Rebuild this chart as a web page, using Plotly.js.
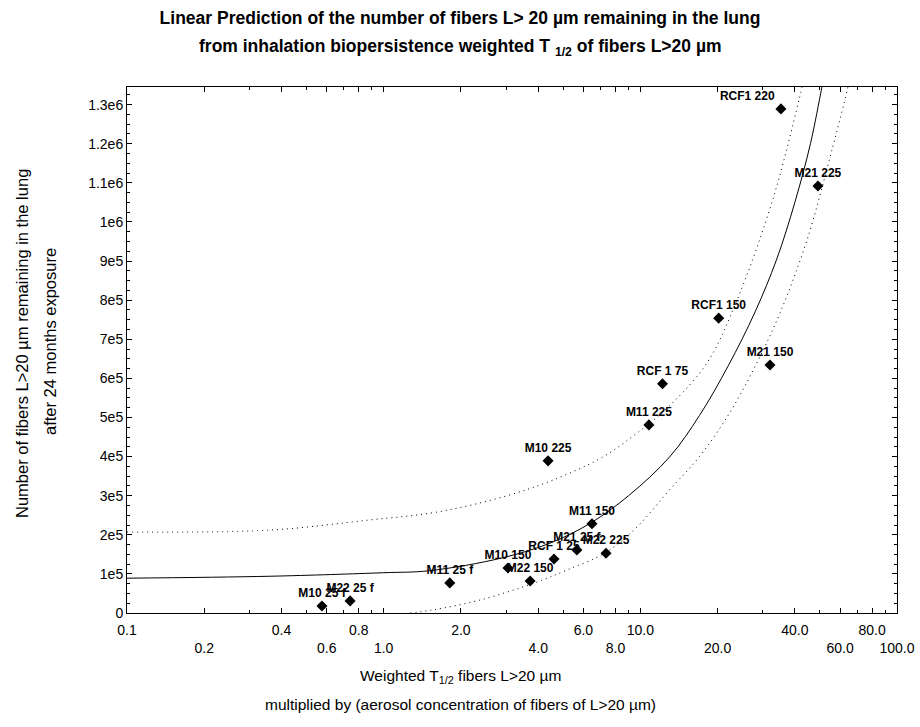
<!DOCTYPE html>
<html>
<head>
<meta charset="utf-8">
<script src="https://cdn.plot.ly/plotly-3.0.1.min.js"></script>
<style>html,body{margin:0;padding:0;background:#fff;}#chart{width:920px;height:727px;}</style>
</head>
<body>
<div id="chart"></div>
<script>
// Data points (weighted T1/2 x aerosol concentration, fibers remaining)
const pointLabels = ["M10 25 f","M22 25 f","M11 25 f","M22 150","M10 150","RCF 1 25","M21 25 f","M22 225","M11 150","M10 225","M11 225","RCF 1 75","RCF1 150","M21 150","M21 225","RCF1 220"];
const pointX = [0.575, 0.74, 1.81, 3.72, 3.05, 4.61, 5.66, 7.35, 6.48, 4.37, 10.8, 12.2, 20.2, 32.0, 49.2, 35.3];
const pointY = [18000, 31000, 77000, 82000, 115000, 138000, 161000, 153000, 228000, 389000, 481000, 586000, 754000, 634000, 1092000, 1289000];
const labelPos = ["top center","top center","top center","top center","top center","top center","top center","top center","top center","top center","top center","top center","top center","top center","top center","top left"];

// Prediction line and confidence bands
const fitX = [0.1, 0.36, 1.0, 1.5, 2.9, 4.5, 6.4, 9.0, 13, 17, 22, 28, 34, 40, 46, 51, 53];
const fitY = [89000, 94000, 103000, 108000, 141000, 180000, 230000, 300000, 399000, 505000, 632000, 770000, 905000, 1050000, 1200000, 1345000, 1400000];
const upX = [0.1, 0.36, 0.885, 1.61, 2.92, 4.57, 7.14, 9.7, 13.0, 18.2, 23.8, 32.9, 41.5, 44.5];
const upY = [207000, 212000, 238000, 258000, 297000, 340000, 399000, 460000, 530000, 640000, 800000, 1060000, 1312000, 1400000];
const lowX = [1.27, 1.56, 2.37, 3.95, 5.18, 7.35, 9.7, 13.0, 17.0, 22.3, 28.4, 35.0, 44.6, 56.2, 64.4, 67];
const lowY = [0, 8000, 33000, 79000, 110000, 155000, 220000, 315000, 400000, 512000, 639000, 767000, 954000, 1192000, 1345000, 1400000];

// Axis ticks
const xTickVals = [0.1, 0.2, 0.4, 0.6, 0.8, 1, 2, 4, 6, 8, 10, 20, 40, 60, 80, 100];
const xTickText = ["0.1","<br>0.2","0.4","<br>0.6","0.8","<br>1.0","2.0","<br>4.0","6.0","<br>8.0","10.0","<br>20.0","40.0","<br>60.0","80.0","<br>100.0"];
const xMinorVals = [0.3, 0.5, 0.7, 0.9, 3, 5, 7, 9, 30, 50, 70, 90];
const yTickVals = [0, 100000, 200000, 300000, 400000, 500000, 600000, 700000, 800000, 900000, 1000000, 1100000, 1200000, 1300000];
const yTickText = ["0","1e5","2e5","3e5","4e5","5e5","6e5","7e5","8e5","9e5","1e6","1.1e6","1.2e6","1.3e6"];

const FONT = "Liberation Sans, Arial, sans-serif";
const L = 127, R = 897, T = 87, B = 613;
const px2px = v => (v - L) / (R - L);
const py2py = v => (B - v) / (B - T);
const DOT = "1px,4px";

const traces = [
  {x: fitX, y: fitY, mode: "lines", line: {color: "#000", width: 1, shape: "spline"}, hoverinfo: "skip"},
  {x: upX, y: upY, mode: "lines", line: {color: "#000", width: 1, dash: DOT, shape: "spline"}, hoverinfo: "skip"},
  {x: lowX, y: lowY, mode: "lines", line: {color: "#000", width: 1, dash: DOT, shape: "spline"}, hoverinfo: "skip"},
  {x: pointX, y: pointY, text: pointLabels, mode: "markers+text", textposition: labelPos,
   marker: {symbol: "diamond", size: 8.5, color: "#000"},
   textfont: {family: FONT, size: 12, color: "#000", weight: "bold"}, cliponaxis: false}
];

const layout = {
  width: 920, height: 727,
  margin: {l: L, r: 920 - R, t: T, b: 727 - B},
  paper_bgcolor: "#fff", plot_bgcolor: "#fff",
  showlegend: false,
  font: {family: FONT, color: "#000"},
  title: {text: "<b>Linear Prediction of the number of fibers L> 20 µm remaining in the lung</b>",
          font: {family: FONT, size: 17.5, color: "#000"}, x: 0.5, xref: "container", xanchor: "center",
          y: 1 - 18 / 727, yref: "container", yanchor: "middle"},
  xaxis: {type: "log", range: [-1, 2], tickmode: "array", tickvals: xTickVals, ticktext: xTickText, tickangle: 0,
          ticklabelstandoff: 4,
          ticks: "inside", ticklen: 5, tickcolor: "#000", showgrid: false, zeroline: false,
          showline: true, linecolor: "#000", linewidth: 1, mirror: "allticks",
          tickfont: {family: FONT, size: 14, color: "#000"},
          minor: {tickmode: "array", tickvals: xMinorVals, ticks: "inside", ticklen: 3, tickcolor: "#000", showgrid: false}},
  yaxis: {range: [0, 1345000], tickmode: "array", tickvals: yTickVals, ticktext: yTickText,
          ticks: "inside", ticklen: 5, tickcolor: "#000", showgrid: false, zeroline: false,
          showline: true, linecolor: "#000", linewidth: 1, mirror: "allticks",
          tickfont: {family: FONT, size: 14, color: "#000"},
          minor: {dtick: 25000, ticks: "inside", ticklen: 3, tickcolor: "#000", showgrid: false}},
  annotations: [
    {text: "<b>from inhalation biopersistence weighted T <sub>1/2</sub> of fibers L>20 µm</b>", xref: "paper", yref: "paper",
     x: px2px(460), y: py2py(47), showarrow: false, xanchor: "center", yanchor: "middle",
     font: {family: FONT, size: 17.5, color: "#000"}},
    {text: "Weighted T<sub>1/2</sub> fibers L>20 µm", xref: "paper", yref: "paper",
     x: px2px(460), y: py2py(676), showarrow: false, xanchor: "center", yanchor: "middle",
     font: {family: FONT, size: 15.5, color: "#000"}},
    {text: "multiplied by (aerosol concentration of fibers of L>20 µm)", xref: "paper", yref: "paper",
     x: px2px(460), y: py2py(704), showarrow: false, xanchor: "center", yanchor: "middle",
     font: {family: FONT, size: 15.5, color: "#000"}},
    {text: "Number of fibers L>20 µm remaining in the lung", xref: "paper", yref: "paper",
     x: px2px(22), y: py2py(344), showarrow: false, xanchor: "center", yanchor: "middle", textangle: -90,
     font: {family: FONT, size: 16.5, color: "#000"}},
    {text: "after 24 months exposure", xref: "paper", yref: "paper",
     x: px2px(50), y: py2py(342), showarrow: false, xanchor: "center", yanchor: "middle", textangle: -90,
     font: {family: FONT, size: 16.5, color: "#000"}}
  ]
};

Plotly.newPlot("chart", traces, layout, {staticPlot: true, displayModeBar: false});
</script>
</body>
</html>
